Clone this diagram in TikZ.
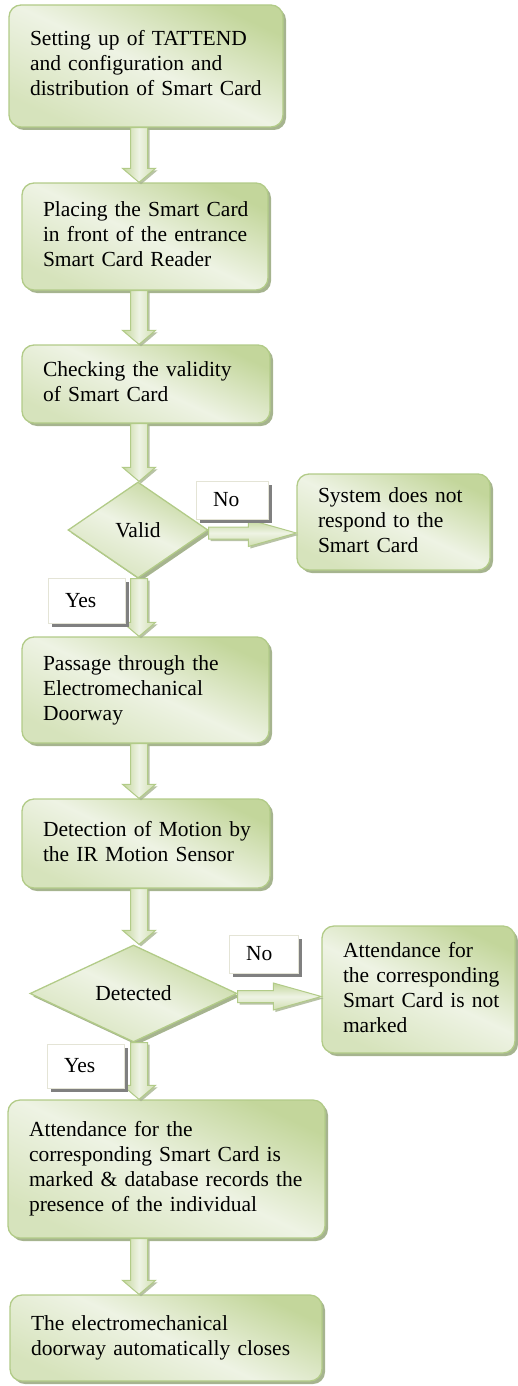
\documentclass[tikz,border=0pt]{standalone}
\usepackage{fontspec}
\setmainfont{Liberation Serif}
\usetikzlibrary{shapes.geometric,shadows,calc}

\definecolor{gdark}{HTML}{C3D69B}
\definecolor{glight}{HTML}{EEF3E4}
\definecolor{gedge}{HTML}{B2CB88}
\definecolor{gshadow}{HTML}{A6B48F}
\definecolor{lblshadow}{HTML}{808080}
\definecolor{lbledge}{HTML}{E4E4D6}

\newcommand\flowfont{\fontsize{21.5}{25}\selectfont}
% lines of a step, set at their natural width and never rewrapped
\newcommand\flowlines[1]{\begin{tabular}{@{}l@{}}#1\end{tabular}}

% vertical block arrow running down the main spine
\newcommand\vblock[2]{%
  \path[varrow] let \p1=(#1.south -| spine), \p2=(#2.north -| spine) in
    (\x1-8.5pt,\y1) -- (\x1+8.5pt,\y1) -- (\x1+8.5pt,\y2+14pt) --
    (\x1+16.5pt,\y2+14pt) -- (\x2,\y2) -- (\x1-16.5pt,\y2+14pt) --
    (\x1-8.5pt,\y2+14pt) -- cycle;}

% horizontal block arrow from a decision to its "No" branch
\newcommand\hblock[2]{%
  \path[harrow] let \p1=(#1.east), \p2=(#2.west) in
    (\x1,\y1-3pt+6pt) -- (\x2-48pt,\y1-3pt+6pt) -- (\x2-48pt,\y1-3pt+13.5pt) --
    (\x2,\y1-3pt) -- (\x2-48pt,\y1-3pt-13.5pt) -- (\x2-48pt,\y1-3pt-6pt) --
    (\x1,\y1-3pt-6pt) -- cycle;}

\begin{document}
\begin{tikzpicture}[x=1pt,y=-1pt,
  flowbox/.style={rectangle, rounded corners=12pt, draw=gedge, line width=1.3pt,
    top color=gdark, bottom color=gdark!55!glight, middle color=glight,
    shading angle=-25,
    drop shadow={shadow xshift=3pt,shadow yshift=-3pt,fill=gshadow,opacity=1},
    align=left, font=\flowfont, inner xsep=21pt, inner ysep=0pt, text=black},
  decision/.style={diamond, draw=gedge, line width=1.3pt,
    top color=gdark, bottom color=gdark!55!glight, middle color=glight,
    shading angle=-25,
    drop shadow={shadow xshift=3pt,shadow yshift=-3pt,fill=gshadow,opacity=1},
    font=\flowfont, inner sep=0pt, aspect=1.5, text=black},
  tag/.style={rectangle, draw=lbledge, line width=0.8pt, fill=white,
    drop shadow={shadow xshift=4pt,shadow yshift=-4pt,fill=lblshadow,opacity=1},
    font=\flowfont, align=left, inner xsep=17pt, inner ysep=0pt, text=black},
  varrow/.style={draw=gedge, line width=1pt,
    left color=gdark, right color=gdark!70!glight, middle color=glight,
    drop shadow={shadow xshift=2pt,shadow yshift=-2pt,fill=gshadow,opacity=0.8}},
  harrow/.style={draw=gedge, line width=1pt,
    top color=gdark, bottom color=gdark!70!glight, middle color=glight,
    drop shadow={shadow xshift=2pt,shadow yshift=-2pt,fill=gshadow,opacity=0.8}}
]
\useasboundingbox (0,0) rectangle (517,1386);
\coordinate (spine) at (139,0);

% process steps
\node[flowbox, text width=232pt, minimum height=122pt] (b1) at (146,66)
  {\flowlines{Setting up of TATTEND\\and configuration and\\distribution of Smart Card}};
\node[flowbox, text width=204pt, minimum height=107pt] (b2) at (145,236.5)
  {\flowlines{Placing the Smart Card\\in front of the entrance\\Smart Card Reader}};
\node[flowbox, text width=206pt, minimum height=78pt] (b3) at (146,384)
  {\flowlines{Checking the validity\\of Smart Card}};
\node[decision, minimum width=140pt, minimum height=96pt] (d1) at (138,530) {Valid};
\node[flowbox, text width=151pt, minimum height=96pt] (s1) at (393.5,522)
  {\flowlines{System does not\\respond to the\\Smart Card}};
\node[flowbox, text width=205pt, minimum height=106pt] (b4) at (145.5,690)
  {\flowlines{Passage through the\\Electromechanical\\Doorway}};
\node[flowbox, text width=206pt, minimum height=89pt] (b5) at (146,843.5)
  {\flowlines{Detection of Motion by\\the IR Motion Sensor}};
\node[decision, minimum width=207pt, minimum height=97pt] (d2) at (133.5,993.5) {Detected};
\node[flowbox, text width=151pt, minimum height=127pt] (s2) at (418.5,989.5)
  {\flowlines{Attendance for\\the corresponding\\Smart Card is not\\marked}};
\node[flowbox, text width=275pt, minimum height=138pt] (b6) at (166.5,1169)
  {\flowlines{Attendance for the\\corresponding Smart Card is\\marked \& database records the\\presence of the individual}};
\node[flowbox, text width=270pt, minimum height=86pt] (b7) at (166,1338)
  {\flowlines{The electromechanical\\doorway automatically closes}};

% connectors
\vblock{b1}{b2}
\vblock{b2}{b3}
\vblock{b3}{d1}
\vblock{d1}{b4}
\vblock{b4}{b5}
\vblock{b5}{d2}
\vblock{d2}{b6}
\vblock{b6}{b7}
\hblock{d1}{s1}
\hblock{d2}{s2}

% branch labels
\node[tag, text width=38pt, minimum height=38pt] (n1) at (232,500) {No};
\node[tag, text width=43pt, minimum height=45pt] (y1) at (86.5,600.5) {Yes};
\node[tag, text width=35pt, minimum height=38pt] (n2) at (263.5,954) {No};
\node[tag, text width=43pt, minimum height=44pt] (y2) at (85.5,1066) {Yes};
\end{tikzpicture}
\end{document}
